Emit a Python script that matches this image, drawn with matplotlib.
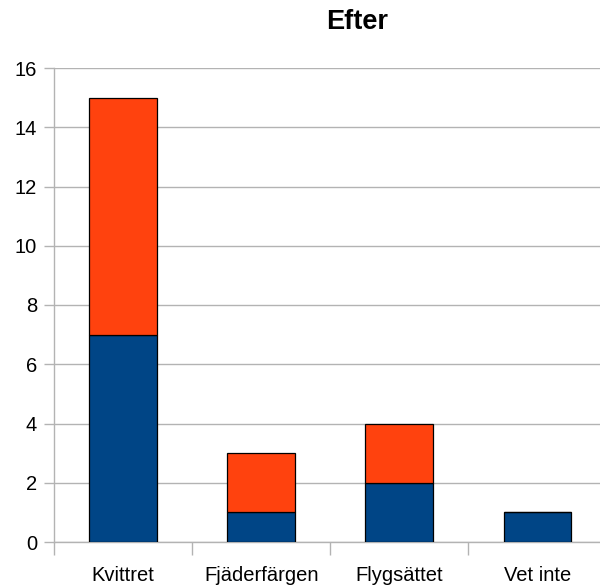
import matplotlib.pyplot as plt
import numpy as np

categories = ["Kvittret", "Fjäderfärgen", "Flygsättet", "Vet inte"]
lower = [7, 1, 2, 1]
upper = [8, 2, 2, 0]
yticks = [0, 2, 4, 6, 8, 10, 12, 14, 16]

plt.rcParams["font.family"] = ["Liberation Sans", "DejaVu Sans"]

fig = plt.figure(figsize=(6, 5.85), dpi=100)
# axes run slightly past the right edge of the figure
ax = fig.add_axes([53.9 / 600, (585 - 542) / 585, 552.7 / 600, 474 / 585])

x = np.arange(len(categories))
ax.bar(x, lower, width=0.49, color="#004586", edgecolor="black", linewidth=0.9, zorder=3)
ax.bar(x, upper, width=0.49, bottom=lower, color="#ff420e", edgecolor="black",
       linewidth=0.9, zorder=3)

ax.set_xlim(-0.5, len(categories) - 0.5)
ax.set_ylim(0, 16)
ax.set_yticks(yticks)
ax.yaxis.grid(True, color="#b3b3b3", linewidth=1, zorder=0)

for s in ["top", "right"]:
    ax.spines[s].set_visible(False)
for s in ["left", "bottom"]:
    ax.spines[s].set_color("#b3b3b3")
    ax.spines[s].set_linewidth(1)

# category labels sit between the boundary ticks
ax.set_xticks(np.arange(-0.5, len(categories), 1.0))
ax.set_xticklabels([])
ax.set_xticks(x, minor=True)
ax.set_xticklabels(categories, minor=True, fontsize=14.5)
ax.tick_params(axis="x", which="major", length=9, color="#b3b3b3", width=1)
ax.tick_params(axis="x", which="minor", length=0, pad=17)
ax.tick_params(axis="y", length=7, color="#b3b3b3", width=1, labelsize=14.5, pad=5)

fig.text(357 / 600, 1 - 22 / 585, "Efter", ha="center", va="center",
         fontsize=19.5, fontweight="bold")

fig.savefig("out.png", dpi=100)
